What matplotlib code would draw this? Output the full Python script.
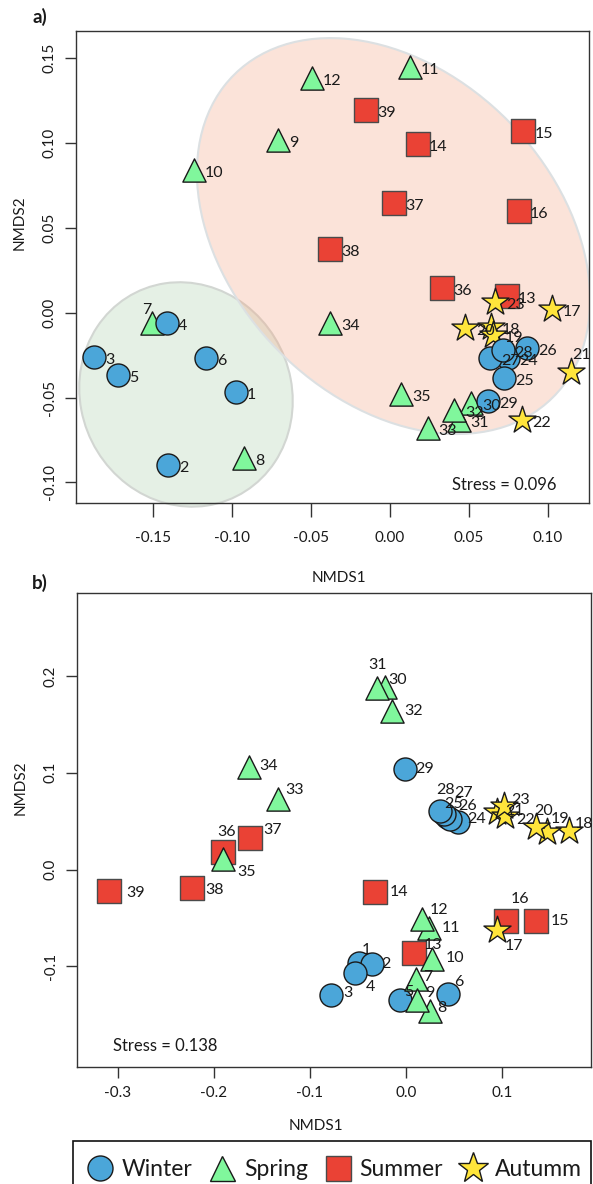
"""
Two NMDS ordination panels (a, b) with season markers, sample labels and a shared legend.
"""

import matplotlib

matplotlib.use("Agg")
import matplotlib.pyplot as plt
from matplotlib.lines import Line2D
from matplotlib.patches import Ellipse, Rectangle

plt.rcParams["font.family"] = ["Lato", "DejaVu Sans"]

# ---- data -----------------------------------------------------------------
SEASONS = ["Winter", "Spring", "Summer", "Autumm"]
WINTER_IDS = [1, 2, 3, 4, 5, 6, 24, 25, 26, 27, 28, 29]
SPRING_IDS = [7, 8, 9, 10, 11, 12, 30, 31, 32, 33, 34, 35]
SUMMER_IDS = [13, 14, 15, 16, 36, 37, 38, 39]
AUTUMN_IDS = [17, 18, 19, 20, 21, 22, 23]

# sample 1..39
NMDS_A_X = [-0.0975, -0.1405, -0.187, -0.141, -0.172, -0.1165, -0.1506, -0.0924, -0.0709, -0.1241,
            0.0127, -0.0494, 0.0738, 0.0175, 0.0844, 0.0816, 0.1023, 0.064, 0.0654, 0.0475,
            0.1144, 0.0833, 0.0665, 0.0749, 0.0722, 0.0865, 0.0633, 0.0713, 0.0622, 0.0511,
            0.0437, 0.0405, 0.0238, -0.038, 0.0068, 0.0331, 0.0027, -0.0378, -0.0152]
NMDS_A_Y = [-0.047, -0.090, -0.026, -0.006, -0.037, -0.027, -0.0063, -0.0857, 0.1021, 0.0844,
            0.1449, 0.1382, 0.010, 0.0995, 0.1073, 0.060, 0.002, -0.0083, -0.0131, -0.0092,
            -0.0348, -0.063, 0.0065, -0.0269, -0.0387, -0.021, -0.0269, -0.022, -0.0521, -0.0531,
            -0.063, -0.0576, -0.068, -0.0061, -0.0478, 0.0146, 0.0649, 0.0377, 0.1195]

NMDS_B_X = [-0.049, -0.0358, -0.0785, -0.0531, -0.0063, 0.0434, 0.0104, 0.025, 0.0118, 0.0274,
            0.024, 0.017, 0.0083, -0.0323, 0.1354, 0.1038, 0.0944, 0.169, 0.1465, 0.1354,
            0.0944, 0.103, 0.1014, 0.0545, 0.0424, 0.0458, 0.0396, 0.0354, -0.001, -0.0219,
            -0.0299, -0.0149, -0.133, -0.1632, -0.1903, -0.1903, -0.1625, -0.2232, -0.309]
NMDS_B_Y = [-0.0964, -0.0977, -0.1298, -0.1063, -0.135, -0.128, -0.1132, -0.146, -0.135, -0.0919,
            -0.0608, -0.0515, -0.086, -0.0236, -0.0529, -0.0529, -0.0626, 0.040, 0.0385, 0.0436,
            0.0598, 0.0553, 0.0657, 0.0494, 0.054, 0.0522, 0.0574, 0.0605, 0.1039, 0.189,
            0.1874, 0.1642, 0.0727, 0.1063, 0.0112, 0.0184, 0.0322, -0.0195, -0.0219]

STRESS_A = 0.096
STRESS_B = 0.138

# group ellipses in panel a: (centre x, centre y, width, height, angle)
ELLIPSE_WINTER = (-0.1291, -0.0482, 0.1378, 0.1295, -35.3)
ELLIPSE_REST = (0.0022, 0.0452, 0.2779, 0.1979, -39.4)

# ---- styles -----------------------------------------------------------------
STYLE = {
    "Winter": dict(marker="o", s=275, facecolor="#4BA6D9", edgecolor="#1a1a1a"),
    "Spring": dict(marker="^", s=280, facecolor="#80F79C", edgecolor="#1a1a1a"),
    "Summer": dict(marker="s", s=290, facecolor="#EA4235", edgecolor="#4a4a4a"),
    "Autumm": dict(marker="*", s=420, facecolor="#FFE53B", edgecolor="#1a1a1a"),
}
GROUP_IDS = {"Winter": WINTER_IDS, "Spring": SPRING_IDS,
             "Summer": SUMMER_IDS, "Autumm": AUTUMN_IDS}

# label offsets in pixels (dx right, dy down); panel a default is to the right
LABEL_A_SPECIAL = {7: (-5, -13), 21: (11, -17)}
LABEL_B = {39: (26, 2), 38: (23, 2), 36: (3, -20), 37: (23, -8), 35: (23, 13), 34: (19, -1),
           33: (16, -9), 31: (0, -23), 30: (13, -7), 32: (22, 0), 29: (19, 0), 28: (5, -21),
           27: (19, -21), 25: (7, -13), 26: (17, -13), 24: (18, -3), 23: (17, -6), 21: (18, -1),
           22: (21, 4), 20: (7, -16), 19: (13, -13), 18: (15, -7), 16: (14, -22), 15: (24, 0),
           17: (17, 16), 14: (24, 0), 12: (17, -9), 11: (22, 0), 13: (19, -8), 10: (23, -1),
           1: (7, -13), 2: (14, 0), 4: (15, 14), 3: (17, -2), 5: (9, -8), 7: (12, -2),
           9: (12, -7), 8: (12, -3), 6: (11, -12)}

AX_COLOR = "#333333"
TXT_COLOR = "#1a1a1a"
LABEL_SIZE = 11.5
TICK_SIZE = 11
W, H = 593, 1184


def style_axes(ax, xticks, xlabels, yticks, ylabels, xlen=8, xpad=6):
    for sp in ax.spines.values():
        sp.set_color(AX_COLOR)
        sp.set_linewidth(1.0)
    ax.set_xticks(xticks)
    ax.set_xticklabels(xlabels)
    ax.set_yticks(yticks)
    ax.set_yticklabels(ylabels, rotation=90, va="center")
    ax.tick_params(axis="both", width=1.0, color=AX_COLOR,
                   labelsize=TICK_SIZE, labelcolor=TXT_COLOR)
    ax.tick_params(axis="x", length=xlen, pad=xpad)
    ax.tick_params(axis="y", length=8, pad=6)


def draw_points(ax, xs, ys, order):
    for season in order:
        ids = GROUP_IDS[season]
        st = STYLE[season]
        ax.scatter([xs[i - 1] for i in ids], [ys[i - 1] for i in ids],
                   marker=st["marker"], s=st["s"], facecolor=st["facecolor"],
                   edgecolor=st["edgecolor"], linewidth=1.0, zorder=3)


def main():
    fig = plt.figure(figsize=(W / 100, H / 100), dpi=100)

    # ---- panel a ----
    ax = fig.add_axes([76 / W, 1 - 503 / H, 513 / W, 472 / H])
    ax.set_xlim(-0.1987, 0.1259)
    ax.set_ylim(-0.1122, 0.1661)

    cx, cy, w, h, ang = ELLIPSE_WINTER
    ax.add_patch(Ellipse((cx, cy), w, h, angle=ang, facecolor="#9BC59A", alpha=0.25,
                         edgecolor="none", zorder=1, clip_on=False))
    ax.add_patch(Ellipse((cx, cy), w, h, angle=ang, facecolor="none",
                         edgecolor="#D2D6D2", lw=1.5, zorder=1, clip_on=False))
    cx, cy, w, h, ang = ELLIPSE_REST
    ax.add_patch(Ellipse((cx, cy), w, h, angle=ang, facecolor="#F4A582", alpha=0.3,
                         edgecolor="none", zorder=1))
    ax.add_patch(Ellipse((cx, cy), w, h, angle=ang, facecolor="none",
                         edgecolor="#DCE0E2", lw=1.5, zorder=1))

    draw_points(ax, NMDS_A_X, NMDS_A_Y, ["Summer", "Autumm", "Spring", "Winter"])
    for i in range(1, 40):
        if i in LABEL_A_SPECIAL:
            dx, dy = LABEL_A_SPECIAL[i]
            ha = "center"
        else:
            dx, dy = 11, 3
            ha = "left"
        ax.annotate(str(i), (NMDS_A_X[i - 1], NMDS_A_Y[i - 1]), xytext=(dx, -dy),
                    textcoords="offset pixels", ha=ha, va="center", fontsize=LABEL_SIZE,
                    color=TXT_COLOR, zorder=5)

    style_axes(ax, [-0.15, -0.10, -0.05, 0.0, 0.05, 0.10],
               ["-0.15", "-0.10", "-0.05", "0.00", "0.05", "0.10"],
               [-0.10, -0.05, 0.0, 0.05, 0.10, 0.15],
               ["-0.10", "-0.05", "0.00", "0.05", "0.10", "0.15"],
               xlen=10, xpad=10)
    ax.set_xlabel("NMDS1", fontsize=TICK_SIZE, color=TXT_COLOR)
    ax.set_ylabel("NMDS2", fontsize=TICK_SIZE, color=TXT_COLOR)
    ax.xaxis.set_label_coords(0.513, -0.144)
    ax.yaxis.set_label_coords(-0.097, 0.593)
    ax.text(0.733, 0.038, f"Stress = {STRESS_A:.3f}", transform=ax.transAxes,
            fontsize=12, color=TXT_COLOR, va="center", ha="left")
    fig.text(39.5 / W, 1 - 17 / H, "a)", fontsize=13.5, fontweight="bold",
             ha="center", va="center", color=TXT_COLOR)

    # ---- panel b ----
    ax = fig.add_axes([77 / W, 1 - 1067 / H, 514 / W, 474 / H])
    ax.set_xlim(-0.3424, 0.1924)
    ax.set_ylim(-0.2039, 0.2857)

    draw_points(ax, NMDS_B_X, NMDS_B_Y, ["Winter", "Summer", "Spring", "Autumm"])
    for i in range(1, 40):
        dx, dy = LABEL_B[i]
        ax.annotate(str(i), (NMDS_B_X[i - 1], NMDS_B_Y[i - 1]), xytext=(dx, -dy),
                    textcoords="offset pixels", ha="center", va="center", fontsize=LABEL_SIZE,
                    color=TXT_COLOR, zorder=5)

    style_axes(ax, [-0.3, -0.2, -0.1, 0.0, 0.1],
               ["-0.3", "-0.2", "-0.1", "0.0", "0.1"],
               [-0.1, 0.0, 0.1, 0.2],
               ["-0.1", "0.0", "0.1", "0.2"])
    ax.set_xlabel("NMDS1", fontsize=TICK_SIZE, color=TXT_COLOR)
    ax.set_ylabel("NMDS2", fontsize=TICK_SIZE, color=TXT_COLOR)
    ax.xaxis.set_label_coords(0.465, -0.11)
    ax.yaxis.set_label_coords(-0.097, 0.59)
    ax.text(0.0706, 0.045, f"Stress = {STRESS_B:.3f}", transform=ax.transAxes,
            fontsize=12, color=TXT_COLOR, va="center", ha="left")
    fig.text(40 / W, 1 - 583 / H, "b)", fontsize=13.5, fontweight="bold",
             ha="center", va="center", color=TXT_COLOR)

    # ---- legend (frame runs off the bottom edge, as in the original) ----
    fig.patches.append(Rectangle((73 / W, -0.02), (591 - 73) / W, 0.02 + 1 - 1141 / H,
                                 transform=fig.transFigure, facecolor="none",
                                 edgecolor="#111111", lw=1.2))
    handles = []
    for season in SEASONS:
        st = STYLE[season]
        ms = 18 if season != "Autumm" else 23
        handles.append(Line2D([], [], ls="none", marker=st["marker"], markersize=ms,
                              markerfacecolor=st["facecolor"],
                              markeredgecolor=st["edgecolor"], markeredgewidth=1.0))
    leg = fig.legend(handles, SEASONS, loc="center left", ncol=4,
                     bbox_to_anchor=(86 / W, 1 - 1170 / H), borderaxespad=0,
                     fontsize=16.5, frameon=False, handlelength=1.2,
                     handletextpad=0.35, columnspacing=0.7, borderpad=0)
    for t in leg.get_texts():
        t.set_color(TXT_COLOR)

    fig.savefig("out.png", dpi=100)
    plt.close(fig)


if __name__ == "__main__":
    main()
